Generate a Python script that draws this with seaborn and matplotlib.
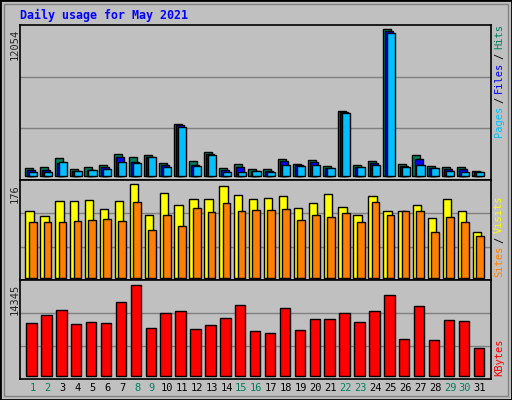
import numpy as np
import pandas as pd
import seaborn as sns
import matplotlib.pyplot as plt
from matplotlib.patches import Rectangle

days = np.arange(1, 32)
hits = [680, 765, 1500, 600, 765, 930, 1830, 1580, 1690, 1090, 4290, 1260, 1990, 680, 1010, 600,
        600, 1420, 1010, 1340, 850, 5350, 930, 1260, 12054, 1010, 1690, 850, 765, 765, 440]
files = [490, 520, 1090, 410, 520, 765, 1580, 1170, 1580, 930, 4150, 930, 1830, 490, 765, 440,
         440, 1260, 930, 1170, 680, 5270, 765, 1090, 11930, 850, 1420, 680, 600, 600, 355]
pages = [355, 355, 1170, 440, 520, 600, 1170, 1090, 1580, 765, 4040, 850, 1750, 355, 355, 440,
         355, 930, 850, 930, 680, 5190, 765, 930, 11740, 765, 930, 680, 440, 355, 355]
visits = [126, 117, 145, 144, 147, 130, 145, 176, 119, 159, 136, 149, 149, 172, 155, 149,
          151, 153, 132, 140, 157, 134, 119, 153, 125, 126, 136, 113, 149, 125, 86]
sites = [104, 105, 104, 107, 109, 111, 107, 142, 90, 119, 98, 132, 123, 140, 126, 128,
         128, 130, 109, 119, 115, 121, 105, 142, 119, 125, 126, 86, 115, 105, 79]
kbytes = [8380, 9630, 10420, 8220, 8530, 8380, 11670, 14345, 7590, 9950, 10260, 7430, 8060, 9160,
          11200, 7120, 6810, 10730, 7280, 9000, 9000, 9950, 8530, 10260, 12770, 5860, 11040, 5710,
          8850, 8690, 4450]
weekend = [1, 2, 8, 9, 15, 16, 22, 23, 29, 30]

sns.set_style("white")
plt.rcParams['font.family'] = ['DejaVu Sans Mono']
BG = '#c0c0c0'
fig = plt.figure(figsize=(5.12, 4), dpi=100, facecolor=BG)
fig.patches.append(Rectangle((0, 0), 1, 1, transform=fig.transFigure, fill=False,
                             edgecolor='black', linewidth=2))
fig.patches.append(Rectangle((0.008, 0.01), 0.984, 0.98, transform=fig.transFigure, fill=False,
                             edgecolor='#808080', linewidth=1))

L, W = 20 / 512, 471 / 512
ax1 = fig.add_axes([L, 0.55, W, 0.3875])
ax2 = fig.add_axes([L, 0.30, W, 0.25])
ax3 = fig.add_axes([L, 0.0525, W, 0.2475])


def bars(ax, vals, off, width, color):
    df = pd.DataFrame({'x': days + off, 'y': vals})
    sns.barplot(data=df, x='x', y='y', native_scale=True, width=width, color=color,
                edgecolor='black', linewidth=1, errorbar=None, ax=ax, saturation=1, zorder=3)


for ax in (ax1, ax2, ax3):
    ax.set_facecolor(BG)
    for y in (1 / 3, 2 / 3):
        ax.plot([0, 1], [y, y], transform=ax.transAxes, color='#808080', lw=1, zorder=1)
    for s in ax.spines.values():
        s.set_color('black')
        s.set_linewidth(1.2)

bars(ax1, hits, -0.26, 0.54, '#00805c')
bars(ax1, files, -0.12, 0.54, '#0000ff')
bars(ax1, pages, 0.01, 0.54, '#00c0ff')
ax1.set_ylim(-328, 12382)
bars(ax2, visits, -0.21, 0.56, '#ffff00')
bars(ax2, sites, 0.0, 0.52, '#ff8000')
ax2.set_ylim(-4.4, 184)
bars(ax3, kbytes, -0.08, 0.7, '#ff0000')
ax3.set_ylim(-470, 15130)

for ax in (ax1, ax2, ax3):
    ax.set_xlim(0.148, 31.74)
    ax.set_xlabel('')
    ax.set_ylabel('')
    ax.set_yticks([])
ax1.set_xticks([])
ax2.set_xticks([])
ax3.set_xticks(days)
ax3.set_xticklabels([str(d) for d in days], fontsize=7.5)
ax3.tick_params(axis='x', length=0, pad=3)
for lbl, d in zip(ax3.get_xticklabels(), days):
    lbl.set_color('#00805c' if d in weekend else 'black')

fig.text(20 / 512, 1 - 15 / 400, 'Daily usage for May 2021', color='#0000ff', fontsize=8.4,
         fontweight='bold', va='center')
for txt, ypx in (('12054', 29), ('176', 184), ('14345', 284)):
    fig.text(15 / 512, 1 - ypx / 400, txt, rotation=90, fontsize=7.5, ha='center', va='top')


def side(parts, ybottom):
    y = ybottom
    for txt, col in parts:
        fig.text(499 / 512, 1 - y / 400, txt, rotation=90, fontsize=7.5, color=col,
                 ha='center', va='bottom')
        y -= 6.0 * len(txt) + 4


side([('Pages', '#00c0ff'), ('/', 'black'), ('Files', '#0000ff'), ('/', 'black'),
      ('Hits', '#00805c')], 137)
side([('Sites', '#ff8000'), ('/', 'black'), ('Visits', '#ffff00')], 277)
side([('KBytes', '#ff0000')], 376)

fig.savefig('out.png', dpi=100, facecolor=BG)
